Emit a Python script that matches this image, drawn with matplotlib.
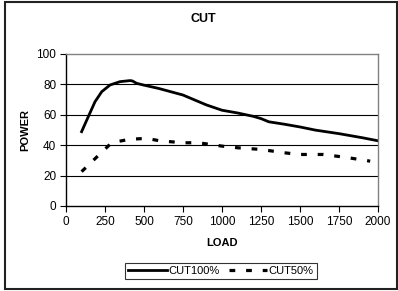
import matplotlib
matplotlib.use("Agg")
import matplotlib.pyplot as plt
from matplotlib.patches import Rectangle

load_full = [100, 143, 186, 229, 282, 346, 410, 425, 453, 500, 592, 750, 900, 1000,
             1100, 1200, 1250, 1300, 1400, 1500, 1600, 1750, 1900, 2000]
cut100 = [48.9, 58.8, 68.6, 75.2, 79.6, 81.8, 82.5, 82.3, 80.7, 79.5, 77.4, 73, 66.5, 63,
          61.2, 59, 57.5, 55.4, 53.8, 52, 49.9, 47.6, 44.9, 42.9]
load_half = [100, 200, 229, 293, 410, 517, 600, 750, 850, 1000, 1100, 1250, 1400,
             1500, 1650, 1800, 1950]
cut50 = [22.6, 32.5, 35.3, 41.7, 43.9, 44.5, 42.9, 41.6, 41.6, 39.4, 38.3, 37.2, 35,
         33.9, 33.9, 31.9, 29.5]
x_ticks = [0, 250, 500, 750, 1000, 1250, 1500, 1750, 2000]
y_ticks = [0, 20, 40, 60, 80, 100]

plt.rcParams['font.family'] = ['Liberation Sans', 'DejaVu Sans']

W, H = 398, 291
fig = plt.figure(figsize=(W / 100, H / 100), dpi=100)
ax = fig.add_axes([66 / W, 1 - 206 / H, 312 / W, 152 / H])

# outer frame
fig.patches.append(Rectangle((4.5 / W, 1 - 289 / H), 392 / W, 287.5 / H,
                             transform=fig.transFigure, fill=False,
                             edgecolor='#222222', linewidth=1.5))

ax.plot(load_full, cut100, color='black', linewidth=2.0, label='CUT100%',
        solid_joinstyle='round')
ax.plot(load_half, cut50, color='black', linewidth=2.3, linestyle=(0, (1.8, 3.4)),
        dash_capstyle='butt', label='CUT50%')

ax.set_xlim(0, 2000)
ax.set_ylim(0, 100)
ax.set_xticks(x_ticks)
ax.set_yticks(y_ticks)
ax.tick_params(labelsize=8.5, length=4, width=0.8, direction='out', pad=3)
for y in y_ticks[1:-1]:
    ax.axhline(y, color='black', linewidth=0.8, zorder=0)
ax.spines['left'].set_color('black')
ax.spines['bottom'].set_color('black')
ax.spines['top'].set_color('#808080')
ax.spines['right'].set_color('#808080')
for s in ax.spines.values():
    s.set_linewidth(1.0)

fig.text(203 / W, 1 - 19 / H, 'CUT', ha='center', va='center', fontsize=9,
         fontweight='bold')
fig.text(222 / W, 1 - 243 / H, 'LOAD', ha='center', va='center', fontsize=8,
         fontweight='bold')
fig.text(25 / W, 1 - 130 / H, 'POWER', ha='center', va='center', fontsize=8,
         fontweight='bold', rotation=90)

leg = fig.legend(loc='center', bbox_to_anchor=(221 / W, 1 - 271 / H), ncol=2,
                 fontsize=8, frameon=True, fancybox=False, edgecolor='black',
                 handlelength=3.5, handletextpad=0.1, columnspacing=0.8,
                 borderpad=0.3, borderaxespad=0)
leg.get_frame().set_linewidth(0.8)

fig.savefig('out.png', dpi=100)
